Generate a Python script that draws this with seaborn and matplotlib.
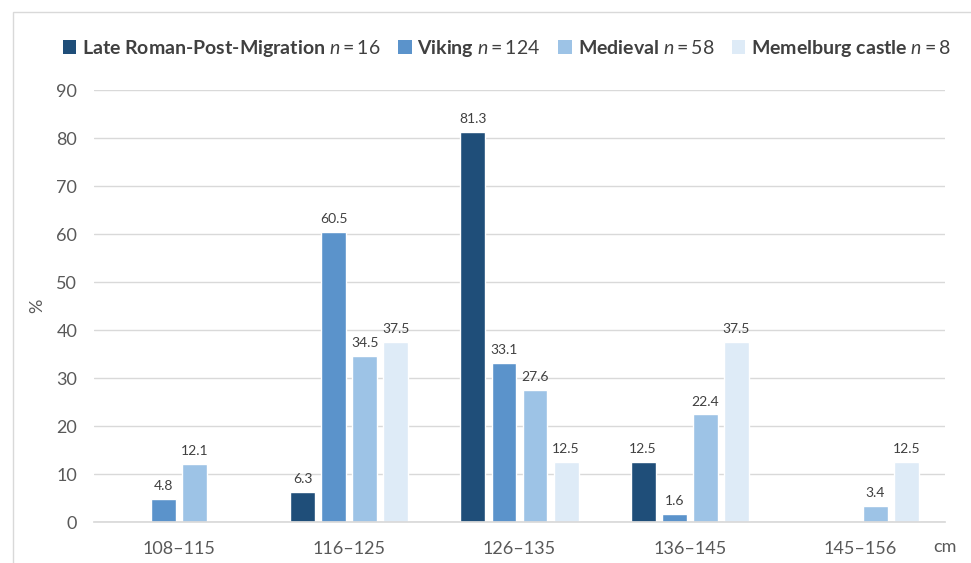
import numpy as np
import pandas as pd
import matplotlib
matplotlib.use('Agg')
import matplotlib.pyplot as plt
import seaborn as sns
from matplotlib.patches import Patch, Rectangle

# data
categories = ['108–115', '116–125', '126–135', '136–145', '145–156']
late_roman = [np.nan, 6.3, 81.3, 12.5, np.nan]
viking = [4.8, 60.5, 33.1, 1.6, np.nan]
medieval = [12.1, 34.5, 27.6, 22.4, 3.4]
memelburg = [np.nan, 37.5, 12.5, 37.5, 12.5]

groups = ['Late Roman-Post-Migration', 'Viking', 'Medieval', 'Memelburg castle']
group_n = [16, 124, 58, 8]
colors = ['#1F4E79', '#5B93CB', '#9DC3E6', '#DEEBF7']

df = pd.DataFrame({
    'cm': categories * 4,
    'group': np.repeat(groups, len(categories)),
    'pct': late_roman + viking + medieval + memelburg,
})

sns.set_theme(style='white')
plt.rcParams['font.family'] = ['Lato', 'DejaVu Sans']
plt.rcParams['mathtext.fontset'] = 'custom'
plt.rcParams['mathtext.rm'] = 'Lato'
plt.rcParams['mathtext.it'] = 'Lato:italic'
plt.rcParams['mathtext.bf'] = 'Lato:bold'

fig = plt.figure(figsize=(9.71, 5.63), dpi=100)
ax = fig.add_axes([0.0968, 0.0728, 0.8764, 0.7673])

sns.barplot(data=df.dropna(), x='cm', y='pct', hue='group', hue_order=groups,
            order=categories, palette=colors, width=0.73, gap=0.2,
            saturation=1, legend=False, ax=ax)

for cont in ax.containers:
    ax.bar_label(cont, fmt='%.1f', padding=5, fontsize=10, color='#404040')

ax.set_ylim(0, 90)
ax.set_yticks(range(0, 91, 10))
ax.set_xlim(-0.5, 4.5)
ax.yaxis.grid(True, color='#D9D9D9', linewidth=1)
ax.set_axisbelow(True)
for s in ['top', 'right', 'left']:
    ax.spines[s].set_visible(False)
ax.spines['bottom'].set_color('#D9D9D9')
ax.tick_params(axis='both', length=0, labelsize=13, labelcolor='#595959', pad=12)
ax.tick_params(axis='x', pad=14)
ax.set_xlabel('')
ax.set_ylabel('%', fontsize=13, color='#595959', labelpad=8)
fig.text(0.973, 0.02, 'cm', fontsize=13, color='#595959', ha='center')

handles = [Patch(facecolor=c, edgecolor='none') for c in colors]
labels = [f'{g} $n = {n}$' for g, n in zip(groups, group_n)]
fig.legend(handles, labels, loc='center', bbox_to_anchor=(0.522, 0.914), ncol=4,
           frameon=False, prop={'weight': 'bold', 'size': 14}, labelcolor='#404040',
           handlelength=0.7, handleheight=0.7, handletextpad=0.3, columnspacing=0.9)

# chart area border (cropped in the reference)
fig.patches.append(Rectangle((13 / 971, -0.1), 1.2, 1 - 12 / 563 + 0.1, transform=fig.transFigure,
                             fill=False, edgecolor='#D9D9D9', linewidth=1))

fig.savefig('out.png', dpi=100)
